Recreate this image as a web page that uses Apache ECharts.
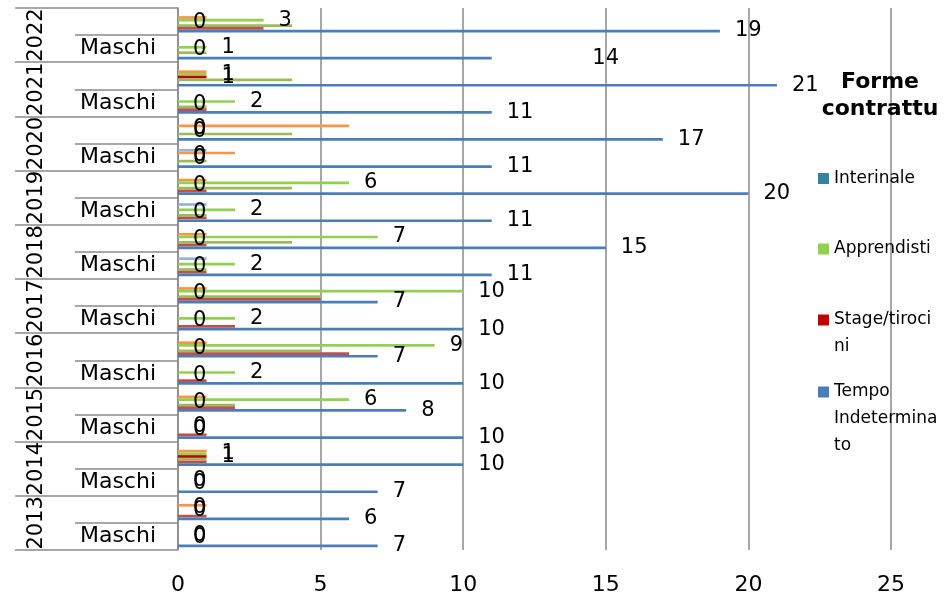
<!DOCTYPE html>
<html><head><meta charset="utf-8">
<script src="https://cdn.jsdelivr.net/npm/echarts@6/dist/echarts.min.js"></script>
<style>html,body{margin:0;padding:0;background:#fff}#c{width:946px;height:598px}</style>
</head><body><div id="c"></div>
<script>
// ---- data (bottom category first) ----
const years = ['2013','2014','2015','2016','2017','2018','2019','2020','2021','2022'];
const genders = ['Maschi', ''];
const categories = years.flatMap(y => genders.map(g => y + '|' + g));
const xTicks = [0, 5, 10, 15, 20, 25];

const tempoIndeterminato       = [7,6,7,10,10,8,10,7,10,7,11,15,11,20,11,17,11,21,11,19];
const tempoIndeterminatoLabels = [7,6,7,10,10,8,10,7,10,7,11,15,11,20,11,17,11,21,14,19];
const serie2        = [0,1,0,1,1,2,1,6,2,5,1,1,1,1,0,0,1,0,0,3];
const serie3        = [0,0,0,1,0,2,0,5,0,5,1,4,1,4,1,4,1,4,1,4];
const stageTirocini = [0,0,0,1,0,0,0,0,0,0,0,0,0,0,0,0,0,1,0,0];
const apprendisti   = [0,0,0,1,0,6,2,9,2,10,2,7,2,6,0,0,2,1,1,3];
const serie6        = [0,1,0,1,0,1,0,1,0,1,0,1,0,1,2,6,0,1,0,1];
const serie7        = [0,0,0,0,0,0,0,0,0,0,1,0,1,0,1,0,0,0,0,0];
const interinale    = [0,0,0,0,0,0,0,0,0,0,0,0,0,0,0,0,0,0,0,0];

const legendTitle = 'Forme\ncontrattu';
const legendItems = ['Interinale', 'Apprendisti', 'Stage/tirocini', 'Tempo Indeterminato'];
const legendText = {
  'Interinale': 'Interinale',
  'Apprendisti': 'Apprendisti',
  'Stage/tirocini': ' \nStage/tiroci\nni',
  'Tempo Indeterminato': ' \n \nTempo\nIndetermina\nto'
};

// ---- styling ----
const FONT = 'DejaVu Sans';
const GRID_C = '#8a8a8a';
const legendTops = [165, 235.5, 279.5, 324.5];

const labelStyle = { show: true, position: 'right', distance: 15, color: '#000', fontFamily: FONT, fontSize: 21 };

function bar(id, name, data, color, withLabel, fmt) {
  const s = { id, name, type: 'bar', data, itemStyle: { color }, barGap: '0%', barCategoryGap: '20%' };
  if (withLabel) {
    s.label = Object.assign({}, labelStyle);
    if (fmt) s.label.formatter = fmt;
  }
  return s;
}

// listed bottom-to-top within each category; ECharts places the first series at the top, so reverse
const seriesBottomToTop = [
  bar('ti', 'Tempo Indeterminato', tempoIndeterminato, '#4A7EBB', true, p => tempoIndeterminatoLabels[p.dataIndex]),
  bar('s2', 'Serie 2', serie2, '#C0504D', false),
  bar('s3', 'Serie 3', serie3, '#9BBB59', false),
  bar('st', 'Stage/tirocini', stageTirocini, '#C00000', true),
  bar('ap', 'Apprendisti', apprendisti, '#92D050', true),
  bar('s6', 'Serie 6', serie6, '#F79646', false),
  bar('s7', 'Serie 7', serie7, '#95B3D7', false),
  bar('in', 'Interinale', interinale, '#31859C', false)
];

const chart = echarts.init(document.getElementById('c'), null, { renderer: 'canvas' });
const option = {
  animation: false,
  backgroundColor: '#fff',
  grid: { left: 178, right: 55, top: 8, bottom: 48 },
  title: {
    text: legendTitle, left: 875, top: 64, textAlign: 'center',
    textStyle: { fontFamily: FONT, fontSize: 22, fontWeight: 'bold', lineHeight: 27, color: '#000' }
  },
  legend: legendItems.map((n, i) => ({
    data: [n], orient: 'vertical', left: 818, top: legendTops[i], padding: 0,
    itemWidth: 11, itemHeight: 11, icon: 'rect', selectedMode: false,
    formatter: name => legendText[name],
    textStyle: { fontFamily: FONT, fontSize: 17, lineHeight: 27, color: '#000' }
  })),
  xAxis: {
    type: 'value', min: xTicks[0], max: xTicks[xTicks.length - 1], interval: 5,
    axisLine: { show: false }, axisTick: { show: false },
    splitLine: { show: true, lineStyle: { color: GRID_C, width: 1.5 } },
    axisLabel: { color: '#000', fontFamily: FONT, fontSize: 22, margin: 24 }
  },
  yAxis: [
    {
      type: 'category', data: categories, position: 'left',
      axisLine: { show: true, lineStyle: { color: GRID_C, width: 1.5 } },
      axisTick: { show: true, length: 103, interval: 0, lineStyle: { color: GRID_C, width: 1.5 } },
      axisLabel: { color: '#000', fontFamily: FONT, fontSize: 22, margin: 22, interval: 0, formatter: v => v.split('|')[1] }
    },
    {
      type: 'category', data: years, position: 'left', offset: 0,
      axisLine: { show: false },
      axisTick: { show: true, length: 163, interval: 0, lineStyle: { color: GRID_C, width: 1.5 } },
      axisLabel: { color: '#000', fontFamily: FONT, fontSize: 21, rotate: 90, margin: 131, interval: 0, hideOverlap: false }
    }
  ],
  series: seriesBottomToTop.slice().reverse()
};
chart.setOption(option);

// place labels whose text differs from the bar value at the position of the labelled value
const px = v => chart.convertToPixel({ xAxisIndex: 0 }, v);
const tiData = tempoIndeterminato.map((v, i) =>
  tempoIndeterminatoLabels[i] === v ? v : { value: v, label: { offset: [px(tempoIndeterminatoLabels[i]) - px(v), 0] } });
chart.setOption({ series: [{ id: 'ti', data: tiData }] });
</script>
</body></html>
